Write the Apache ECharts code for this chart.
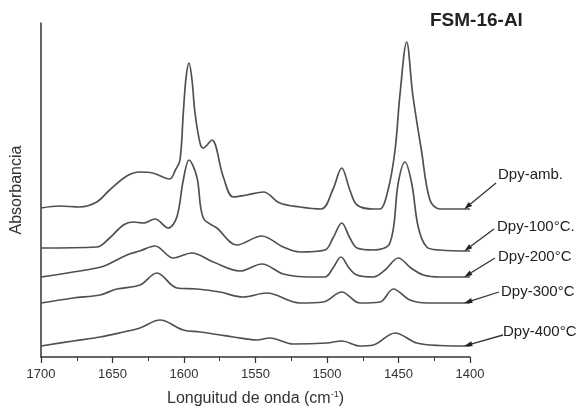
<!DOCTYPE html>
<html>
<head>
<meta charset="utf-8">
<script src="https://cdn.jsdelivr.net/npm/echarts@6/dist/echarts.min.js"></script>
<style>html,body{margin:0;padding:0;background:#fff;}#c{width:586px;height:407px;}</style>
</head>
<body>
<div id="c"></div>
<script>
// [wavenumber (cm-1), absorbance (offset, arbitrary units)]
var dpyAmb = [[1700,1.49],[1687,1.51],[1673,1.50],[1661,1.55],[1652,1.67],[1640,1.81],[1631,1.85],[1622,1.84],[1610,1.78],[1606,1.87],[1602.8,1.97],[1600.5,2.44],[1598.6,2.79],[1596.5,2.94],[1594.4,2.77],[1592.3,2.44],[1588.8,2.14],[1586.5,2.09],[1580.6,2.17],[1572.5,1.80],[1565.5,1.60],[1556,1.62],[1544.5,1.65],[1533,1.54],[1519,1.50],[1504,1.48],[1496,1.67],[1489.7,1.89],[1484,1.67],[1479,1.52],[1467.6,1.48],[1463,1.48],[1457.3,1.67],[1452.4,2.07],[1449,2.62],[1444.3,3.15],[1440,2.62],[1434,2.07],[1428,1.57],[1421,1.48],[1400,1.48]];
var dpy100 = [[1700,1.09],[1661,1.10],[1652,1.19],[1642.4,1.32],[1635.5,1.35],[1628.5,1.34],[1620.3,1.38],[1611,1.29],[1605,1.40],[1600.5,1.77],[1596.5,1.97],[1591,1.80],[1586.5,1.39],[1577,1.29],[1563,1.12],[1545.7,1.21],[1530.6,1.10],[1519,1.05],[1501.4,1.07],[1495.8,1.19],[1489.7,1.34],[1484,1.19],[1479,1.09],[1467.6,1.07],[1456,1.14],[1450.2,1.74],[1445.5,1.95],[1440.8,1.74],[1436.2,1.30],[1430.3,1.10],[1421,1.07],[1400,1.06]];
var dpy200 = [[1700,0.80],[1661,0.89],[1654,0.92],[1640,1.02],[1631,1.06],[1620.3,1.11],[1607.5,0.99],[1594.6,1.04],[1579.5,0.95],[1560.8,0.86],[1545.5,0.93],[1530.6,0.83],[1512,0.80],[1501.4,0.80],[1495.8,0.89],[1490.2,1.00],[1484.6,0.89],[1479.2,0.82],[1467.6,0.80],[1459.4,0.87],[1450.1,0.99],[1441.3,0.89],[1432.6,0.82],[1421,0.80],[1400,0.80]];
var dpy300 = [[1700,0.54],[1677.4,0.59],[1658.7,0.62],[1647,0.68],[1630.8,0.72],[1619,0.84],[1605,0.69],[1591,0.68],[1575,0.65],[1558.5,0.60],[1542.2,0.64],[1519,0.54],[1502.6,0.55],[1489.7,0.65],[1477,0.54],[1463,0.55],[1453.6,0.68],[1442,0.57],[1430,0.54],[1400,0.54]];
var dpy400 = [[1700,0.11],[1677.4,0.16],[1658.7,0.20],[1642.4,0.25],[1630.8,0.29],[1616.8,0.37],[1600.5,0.27],[1588.8,0.25],[1574.8,0.22],[1565.5,0.20],[1549.2,0.17],[1540,0.19],[1523.6,0.13],[1500.2,0.14],[1489.7,0.16],[1477,0.11],[1467.6,0.12],[1452.4,0.24],[1437.3,0.14],[1421,0.115],[1400,0.11]];
var seriesNames = ['Dpy-amb.','Dpy-100°C.','Dpy-200°C','Dpy-300°C','Dpy-400°C'];
var xTicks = [1700,1650,1600,1550,1500,1450,1400];

var allData = [dpyAmb, dpy100, dpy200, dpy300, dpy400];
var FONT = 'Liberation Sans, Arial, sans-serif';
var chart = echarts.init(document.getElementById('c'), null, {renderer:'canvas'});
var lineColor = '#505050';
chart.setOption({
  animation: false,
  backgroundColor: '#fff',
  title: {text: 'FSM-16-Al', left: 430, top: 11, padding: 0,
    textStyle: {fontFamily: FONT, fontSize: 19, fontWeight: 'bold', color: '#222'}},
  grid: {left: 41, right: 116, top: 23, bottom: 50, containLabel: false, outerBoundsMode: 'none'},
  xAxis: {type: 'value', min: 1400, max: 1700, interval: 50, inverse: true,
    axisLine: {show: true, lineStyle: {color: '#333', width: 1.5}},
    axisTick: {show: true, length: 6, lineStyle: {color: '#333', width: 1.2}},
    minorTick: {show: true, splitNumber: 2, length: 4, lineStyle: {color: '#333', width: 1}},
    splitLine: {show: false},
    axisLabel: {fontFamily: FONT, fontSize: 13, color: '#333', margin: 11,
      formatter: function (v) { return xTicks.indexOf(v) >= 0 ? String(v) : ''; }},
    name: 'Longuitud de onda (cm{sup|-1})', nameLocation: 'middle', nameGap: 33,
    nameTextStyle: {fontFamily: FONT, fontSize: 16, color: '#333',
      rich: {sup: {fontFamily: FONT, fontSize: 9, color: '#333', padding: [0, 0, 9, 0]}}}
  },
  yAxis: {type: 'value', min: 0, max: 3.34,
    axisLine: {show: true, lineStyle: {color: '#333', width: 1.5}},
    axisTick: {show: false}, axisLabel: {show: false}, splitLine: {show: false},
    name: 'Absorbancia', nameLocation: 'middle', nameGap: 16, nameRotate: 90,
    nameTextStyle: {fontFamily: FONT, fontSize: 16, color: '#333'}
  },
  series: allData.map(function (d, i) {
    return {type: 'line', name: seriesNames[i], data: d, smooth: 0.35, showSymbol: false,
      lineStyle: {color: lineColor, width: 1.7}, z: 2};
  })
});

// annotation arrows and labels
var labelPos = [[498,175],[497,227],[498,257],[501,292],[503,332]];
var arrowStart = [[496,183],[494,229],[495,258],[499,292],[503,335]];
var graphics = [];
allData.forEach(function (d, i) {
  var last = d[d.length - 1];
  var tip = chart.convertToPixel({gridIndex: 0}, [1404, last[1]]);
  var s = arrowStart[i];
  var dx = tip[0] - s[0], dy = tip[1] - s[1];
  var len = Math.sqrt(dx*dx + dy*dy); var ux = dx/len, uy = dy/len;
  var hl = 8, hw = 2.6;
  var bx = tip[0] - ux*hl, by = tip[1] - uy*hl;
  graphics.push({type: 'line', shape: {x1: s[0], y1: s[1], x2: bx, y2: by},
    style: {stroke: '#333', lineWidth: 1.3}, z: 10});
  graphics.push({type: 'polygon', shape: {points: [[tip[0], tip[1]], [bx - uy*hw, by + ux*hw], [bx + uy*hw, by - ux*hw]]},
    style: {fill: '#222'}, z: 10});
  graphics.push({type: 'text', x: labelPos[i][0], y: labelPos[i][1],
    style: {text: seriesNames[i], font: '15px ' + FONT, fill: '#222', textVerticalAlign: 'middle', textAlign: 'left'}, z: 10});
});
chart.setOption({graphic: graphics});
</script>
</body>
</html>
